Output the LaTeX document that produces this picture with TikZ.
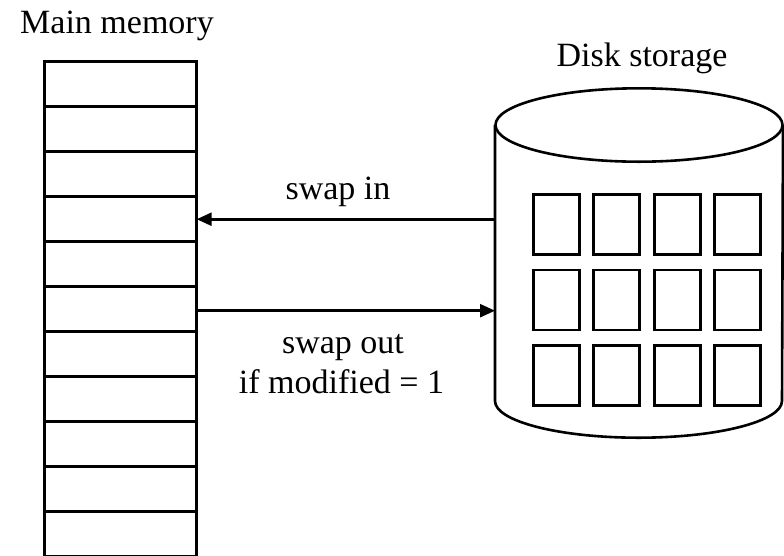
\documentclass[tikz,border=0pt]{standalone}
\usepackage{fontspec}
\setmainfont{Liberation Serif}
\usetikzlibrary{arrows.meta}
\begin{document}
\begin{tikzpicture}[x=1pt,y=-1pt,line width=2.6pt,
  slot/.style={draw,minimum width=152pt,minimum height=45pt,inner sep=0pt,outer sep=0pt},
  pagebox/.style={draw,minimum width=46pt,minimum height=60pt,inner sep=0pt,outer sep=0pt},
  lbl/.style={font=\fontsize{34}{40}\selectfont,inner sep=0pt,anchor=base},
  arr/.style={-{Triangle[length=15pt,width=13pt]}}]
\clip (0,0) rectangle (784,555);
% main memory column
\foreach \i in {1,...,12}{
  \node[slot] (s\i) at (120.7,{84.2+45*(\i-1)}) {};
}
\node[lbl] (mmlabel) at (117,33) {Main memory};
% disk
\node[minimum width=288pt,minimum height=276pt,inner sep=0pt,outer sep=0pt] (disk) at (639,263) {};
\draw (disk.north west) -- (disk.south west)
  arc[start angle=180,end angle=0,x radius=143.5,y radius=36.7]
  -- (disk.north east);
\draw (disk.north) ellipse[x radius=143.5,y radius=36.7];
\node[lbl] (dslabel) at (642,66.7) {Disk storage};
\foreach \c [count=\ci] in {556.3,616.7,677.2,737.5}{
  \foreach \r [count=\ri] in {224.3,300,375.7}{
    \node[pagebox] (p\ri\ci) at (\c,\r) {};
  }
}
% arrows
\draw[arr] (s4.east -| disk.west) -- (s4.east);
\draw[arr] ([yshift=-1.5pt]s6.east) -- ([yshift=-1.5pt]s6.east -| disk.west);
\node[lbl] (swapin) at (338,199.3) {swap in};
\node[lbl] (swapout) at (343,353) {swap out};
\node[lbl] (cond) at (341.5,393) {if modified = 1};
\end{tikzpicture}
\end{document}
